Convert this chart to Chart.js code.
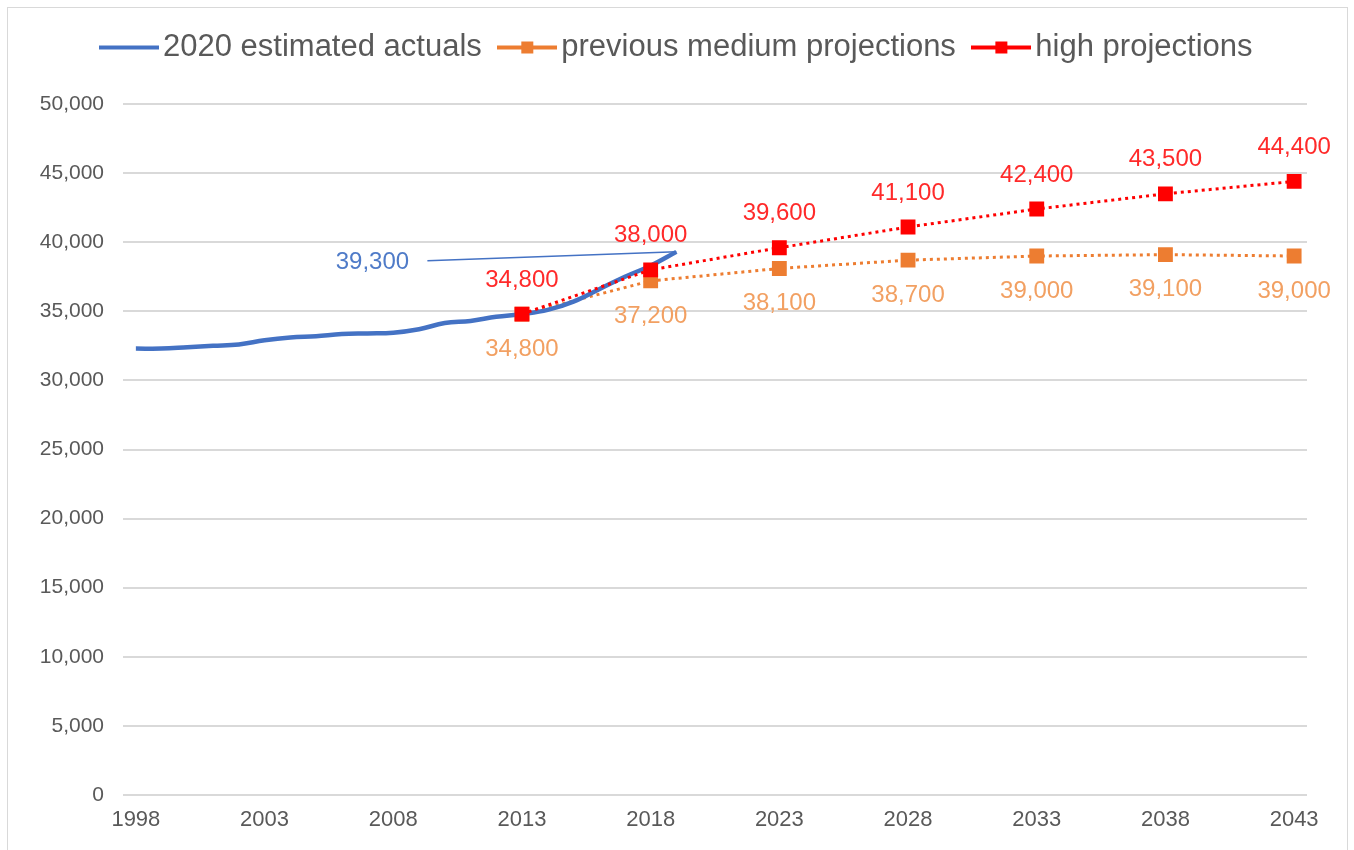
<!DOCTYPE html>
<html>
<head>
<meta charset="utf-8">
<title>Projections</title>
<script src="https://cdn.jsdelivr.net/npm/chart.js@4.4.1/dist/chart.umd.min.js"></script>
<style>
  html,body{margin:0;padding:0;background:#fff;}
  #wrap{position:relative;width:1354px;height:850px;overflow:hidden;}
  #frame{position:absolute;left:7px;top:7px;width:1341px;height:870px;border:1px solid #d9d9d9;box-sizing:border-box;}
  #myChart{position:absolute;left:0;top:0;}
</style>
</head>
<body>
<div id="wrap">
  <div id="frame"></div>
  <canvas id="myChart" width="1354" height="850"></canvas>
</div>
<script>
var years=['1998','1999','2000','2001','2002','2003','2004','2005','2006','2007',
           '2008','2009','2010','2011','2012','2013','2014','2015','2016','2017',
           '2018','2019','2020','2021','2022','2023','2024','2025','2026','2027',
           '2028','2029','2030','2031','2032','2033','2034','2035','2036','2037',
           '2038','2039','2040','2041','2042','2043'];
var tickYears=['1998','2003','2008','2013','2018','2023','2028','2033','2038','2043'];

// 2020 estimated actuals, 1998 - 2019
var actuals=[32300,32300,32400,32500,32600,32900,33100,33200,33350,33400,
             33450,33700,34150,34300,34600,34800,35100,35700,36600,37500,
             38300,39300];

var projYears=['2013','2018','2023','2028','2033','2038','2043'];
var mediumProj=[34800,37200,38100,38700,39000,39100,39000];
var highProj=[34800,38000,39600,41100,42400,43500,44400];

var seriesNames=['2020 estimated actuals','previous medium projections','high projections'];

var FONT='"Liberation Sans", Arial, sans-serif';
var BLUE='#4472C4', ORANGE='#ED7D31', RED='#FF0000';

function onYears(vals){
    return years.map(function(y){
        var i=projYears.indexOf(y);
        return i>=0 ? vals[i] : null;
    });
}

function fmt(v){ return v.toLocaleString('en-US'); }

// little canvas used as legend symbol: a line, optionally with a square in the middle
function legendSymbol(color,withMarker){
    var c=document.createElement('canvas');
    c.width=60; c.height=14;
    var g=c.getContext('2d');
    g.fillStyle=color;
    g.fillRect(0,5,60,4);
    if(withMarker) g.fillRect(24,1,12,12);
    return c;
}

var legendGap={
    id:'legendGap',
    beforeInit:function(chart){
        var fit=chart.legend.fit;
        chart.legend.fit=function(){
            fit.call(this);
            this.height+=31;
        };
    },
    afterLayout:function(chart){
        chart.legend.left+=24;
        chart.legend.right+=24;
    }
};

var valueLabels={
    id:'valueLabels',
    afterDatasetsDraw:function(chart){
        var ctx=chart.ctx;
        ctx.save();
        ctx.font='24px '+FONT;
        ctx.textAlign='center';
        ctx.textBaseline='middle';
        chart.data.datasets.forEach(function(ds,i){
            var meta=chart.getDatasetMeta(i);
            meta.data.forEach(function(pt,j){
                var v=ds.data[j];
                if(v==null) return;
                if(ds.labelMode=='above'){
                    ctx.fillStyle=ds.labelColor;
                    ctx.fillText(fmt(v),pt.x,pt.y-34);
                }else if(ds.labelMode=='below'){
                    ctx.fillStyle=ds.labelColor;
                    ctx.fillText(fmt(v),pt.x,pt.y+35);
                }else if(ds.labelMode=='last' && j==actuals.length-1){
                    ctx.strokeStyle=BLUE;
                    ctx.lineWidth=1.5;
                    ctx.beginPath();
                    ctx.moveTo(pt.x-249,pt.y+9);
                    ctx.lineTo(pt.x,pt.y);
                    ctx.stroke();
                    ctx.fillStyle=ds.labelColor;
                    ctx.fillText(fmt(v),pt.x-304,pt.y+11);
                }
            });
        });
        ctx.restore();
    }
};

var ctx=document.getElementById('myChart').getContext('2d');
var myChart=new Chart(ctx,{
    type:'line',
    data:{
        labels:years,
        datasets:[{
            label:seriesNames[0],
            data:years.map(function(y,i){ return i<actuals.length ? actuals[i] : null; }),
            borderColor:BLUE,
            backgroundColor:BLUE,
            borderWidth:4.5,
            tension:0.4,
            pointRadius:0,
            pointHoverRadius:0,
            order:1,
            labelMode:'last',
            labelColor:'#4F7BC8',
            legendSymbol:legendSymbol(BLUE,false)
        },{
            label:seriesNames[1],
            data:onYears(mediumProj),
            borderColor:ORANGE,
            backgroundColor:ORANGE,
            borderWidth:3,
            borderDash:[3,4],
            spanGaps:true,
            pointStyle:'rect',
            pointRadius:10.5,
            pointHoverRadius:10.5,
            pointBorderWidth:0,
            order:2,
            labelMode:'below',
            labelColor:'#F2A062',
            legendSymbol:legendSymbol(ORANGE,true)
        },{
            label:seriesNames[2],
            data:onYears(highProj),
            borderColor:RED,
            backgroundColor:RED,
            borderWidth:3,
            borderDash:[3,4],
            spanGaps:true,
            pointStyle:'rect',
            pointRadius:10.5,
            pointHoverRadius:10.5,
            pointBorderWidth:0,
            order:0,
            labelMode:'above',
            labelColor:'#FF2A2A',
            legendSymbol:legendSymbol(RED,true)
        }]
    },
    options:{
        responsive:false,
        devicePixelRatio:1,
        animation:false,
        events:[],
        layout:{padding:{left:8,right:47,top:5,bottom:0}},
        plugins:{
            tooltip:{enabled:false},
            legend:{
                position:'top',
                labels:{
                    usePointStyle:true,
                    pointStyleWidth:37,
                    padding:27,
                    color:'#595959',
                    font:{family:FONT,size:31},
                    generateLabels:function(chart){
                        return chart.data.datasets.map(function(ds,i){
                            return {
                                text:ds.label,
                                fontColor:'#595959',
                                pointStyle:ds.legendSymbol,
                                fillStyle:ds.borderColor,
                                strokeStyle:ds.borderColor,
                                lineWidth:0,
                                hidden:false,
                                datasetIndex:i
                            };
                        });
                    }
                }
            }
        },
        scales:{
            x:{
                offset:true,
                grid:{display:false,drawTicks:false},
                border:{display:false},
                ticks:{
                    autoSkip:false,
                    maxRotation:0,
                    padding:12,
                    color:'#595959',
                    font:{family:FONT,size:22},
                    callback:function(val,i){
                        var y=this.getLabelForValue(val);
                        return tickYears.indexOf(y)>=0 ? y : null;
                    }
                },
                afterFit:function(scale){ scale.height=55; }
            },
            y:{
                min:0,
                max:50000,
                grid:{color:'#d9d9d9',lineWidth:2,drawTicks:false},
                border:{display:false},
                ticks:{
                    stepSize:5000,
                    padding:19,
                    color:'#595959',
                    font:{family:FONT,size:21},
                    callback:function(v){ return fmt(v); }
                },
                afterFit:function(scale){ scale.width=115; }
            }
        }
    },
    plugins:[legendGap,valueLabels]
});
</script>
</body>
</html>
